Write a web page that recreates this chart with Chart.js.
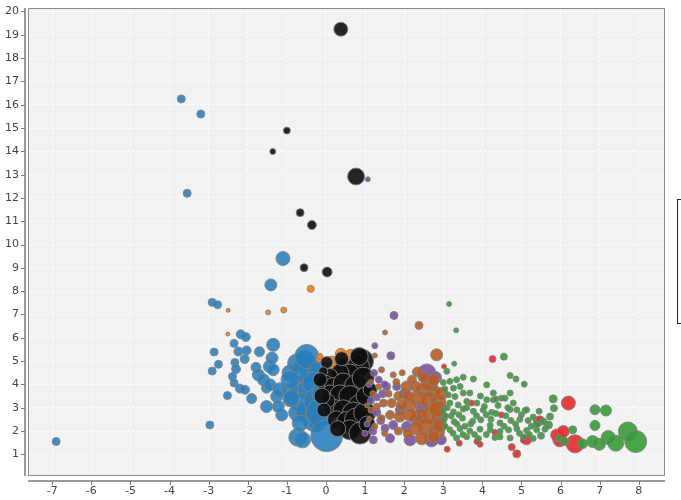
<!DOCTYPE html>
<html>
<head>
<meta charset="utf-8">
<script src="https://cdn.jsdelivr.net/npm/chart.js@4.4.0/dist/chart.umd.min.js"></script>
<style>
  html, body { margin: 0; padding: 0; background: #fff; }
  #wrap { width: 681px; height: 500px; }
</style>
</head>
<body>
<div id="wrap"><canvas id="bubbles" width="681" height="500"></canvas></div>
<script>
// tick labels
const xTickValues = [-7, -6, -5, -4, -3, -2, -1, 0, 1, 2, 3, 4, 5, 6, 7, 8];
const yTickValues = [1, 2, 3, 4, 5, 6, 7, 8, 9, 10, 11, 12, 13, 14, 15, 16, 17, 18, 19, 20];

// each point: [x, y, bubble size]
const blue = [
  [-6.9, 1.55, 4], [-3.7, 16.25, 4], [-3.2, 15.6, 4], [-3.55, 12.2, 4],
  [-1.1, 9.4, 7], [-1.41, 8.27, 6], [-2.91, 7.52, 4], [-2.77, 7.42, 4],
  [-2.18, 6.15, 4.5], [-2.05, 6.03, 4.5], [-2.35, 5.76, 4], [-1.35, 5.7, 6.5],
  [-2.86, 5.39, 4], [-2.24, 5.41, 4.5], [-2.03, 5.46, 4.5], [-2.08, 5.09, 4.5], [-1.7, 5.4, 5],
  [-2.75, 4.86, 4], [-2.91, 4.57, 4], [-2.33, 4.94, 4], [-2.3, 4.66, 4.5], [-2.39, 4.34, 4],
  [-2.35, 4.06, 4], [-2.2, 3.82, 4.5], [-2.07, 3.77, 4.5], [-2.52, 3.52, 4], [-1.9, 3.39, 5], [-2.97, 2.26, 4],
  [-1.79, 4.73, 5], [-1.73, 4.41, 6], [-1.6, 4.2, 6], [-1.45, 4.77, 6], [-1.38, 5.13, 6], [-1.35, 4.63, 6],
  [-1.52, 3.84, 5], [-1.43, 3.98, 6], [-1.52, 3.05, 6], [-1.26, 3.48, 6], [-1.13, 2.69, 6], [-1.22, 3.05, 6],
  [-0.92, 3.34, 7], [-0.75, 2.78, 8], [-0.72, 1.73, 9], [-0.6, 1.62, 8], [-0.92, 4.49, 8], [-0.75, 4.92, 9],
  [-0.54, 5.06, 9], [-0.41, 4.63, 10], [-0.66, 3.91, 10], [-0.88, 3.7, 8], [-0.41, 3.77, 12], [-0.49, 2.91, 10],
  [-0.24, 2.48, 9], [-0.66, 3.2, 10], [-0.5, 4.63, 14], [-0.49, 5.2, 12], [-0.15, 4.49, 12], [-0.32, 4.06, 11],
  [-0.92, 4.2, 9], [-1.18, 3.77, 7], [-0.88, 3.41, 8], [-0.49, 2.84, 11], [-0.28, 2.48, 12], [-0.24, 3.27, 13],
  [-0.66, 2.34, 8], [-0.15, 2.78, 14], [0.0, 3.65, 14], [0.02, 1.8, 16]
];

const orange = [
  [-0.39, 8.1, 3.5], [-1.08, 7.19, 3], [-1.48, 7.09, 2.5], [-2.5, 7.18, 2], [-2.51, 6.16, 2],
  [-0.17, 5.09, 3.5], [0.38, 5.31, 5.5], [0.63, 5.27, 5.5], [0.15, 5.0, 5], [0.9, 5.15, 5], [1.08, 4.34, 2],
  [1.17, 4.41, 2], [-0.15, 5.2, 3], [0.2, 4.7, 6], [0.55, 4.6, 7], [0.05, 4.3, 5], [0.85, 4.55, 6],
  [0.4, 3.9, 6], [0.75, 3.5, 6], [0.3, 3.0, 5]
];

const black = [
  [0.38, 19.24, 7], [-1.0, 14.89, 3.5], [-1.36, 13.99, 3], [0.77, 12.92, 8.5], [-0.66, 11.37, 4],
  [-0.36, 10.84, 4.5], [-0.56, 9.01, 4], [0.03, 8.82, 5],
  [0.02, 4.94, 6], [0.91, 5.0, 12], [0.44, 4.77, 8], [0.83, 4.77, 11], [0.61, 4.49, 9], [0.36, 4.49, 9],
  [0.1, 4.34, 8], [-0.03, 4.06, 8], [0.19, 3.91, 9], [0.44, 4.06, 10], [0.78, 3.91, 12], [0.95, 4.27, 11],
  [0.1, 3.63, 8], [0.36, 3.55, 10], [0.61, 3.48, 11], [0.87, 3.05, 12], [0.19, 2.98, 9], [0.44, 2.91, 10],
  [0.7, 2.77, 11], [0.27, 2.48, 9], [0.53, 2.41, 10], [0.78, 2.48, 12], [0.99, 2.77, 11], [0.61, 2.05, 10],
  [0.87, 1.91, 11], [-0.07, 4.56, 4.5], [0.05, 3.3, 7], [0.3, 2.1, 8], [0.4, 5.1, 7], [0.85, 5.2, 9],
  [1.0, 3.5, 9], [-0.15, 4.2, 7], [-0.1, 3.5, 8], [-0.05, 2.9, 7], [1.13, 3.77, 7], [1.05, 2.3, 8]
];

const purple = [
  [1.07, 12.8, 2.5], [1.74, 6.96, 4], [1.25, 5.66, 3], [1.66, 5.23, 4], [2.58, 4.49, 9], [1.23, 4.49, 3.5],
  [1.81, 3.91, 4], [1.55, 3.91, 4], [2.06, 2.19, 5], [1.72, 2.26, 4.5], [1.51, 2.12, 4], [1.21, 1.62, 4],
  [1.64, 1.69, 4.5], [2.15, 1.62, 6], [2.7, 1.62, 7], [2.95, 1.62, 5], [2.3, 2.5, 6], [1.3, 2.8, 4],
  [1.15, 3.3, 3.5], [1.05, 2.3, 3], [1.45, 3.6, 4], [2.8, 4.3, 6], [2.9, 2.3, 6], [2.45, 3.0, 6],
  [1.9, 2.9, 5], [1.1, 4.0, 3], [2.7, 4.0, 6], [1.35, 4.2, 3.5], [1.0, 1.9, 3], [2.0, 3.6, 5],
  [1.2, 2.0, 4], [1.4, 2.45, 4], [1.3, 3.45, 3.5], [1.5, 4.0, 3.5]
];

const brown = [
  [2.38, 6.53, 4], [1.51, 6.23, 2.5], [2.83, 5.27, 6], [1.25, 5.24, 2.5], [2.34, 4.53, 5], [1.72, 4.41, 3],
  [1.42, 4.63, 3], [2.06, 3.91, 5.5], [2.49, 3.77, 6.5], [2.74, 3.7, 7], [2.36, 3.41, 7.5], [2.62, 3.34, 8],
  [2.87, 3.2, 8], [2.15, 3.12, 6.5], [1.94, 3.12, 5.5], [1.68, 3.2, 4.5], [1.47, 3.2, 4], [1.3, 3.05, 3.5],
  [2.7, 2.69, 9], [2.4, 2.62, 8], [2.15, 2.69, 6.5], [1.89, 2.62, 5.5], [1.64, 2.69, 4.5], [1.42, 2.55, 3.5],
  [2.58, 2.19, 9], [2.32, 2.12, 6.5], [2.83, 1.98, 8], [2.45, 1.69, 6.5], [1.2, 3.6, 3], [1.35, 3.9, 3],
  [1.6, 3.6, 3.5], [1.85, 3.5, 4.5], [2.1, 3.5, 5.5], [2.9, 2.6, 8], [2.95, 3.6, 6.5], [2.6, 4.0, 6.5],
  [2.3, 3.9, 5.5], [1.8, 4.1, 3.5], [1.15, 2.9, 3], [1.25, 2.2, 3], [1.5, 1.9, 3], [1.85, 2.0, 4],
  [2.1, 1.9, 5], [2.85, 2.95, 8], [2.2, 4.2, 4.5], [1.95, 4.5, 3], [1.15, 4.1, 2.5], [1.05, 3.1, 2.5],
  [1.1, 2.5, 2.5], [2.5, 4.3, 5.5], [2.75, 4.2, 6], [2.9, 2.25, 7], [2.75, 1.75, 6]
];

const green = [
  [3.15, 7.45, 2.5], [3.33, 6.32, 2.5], [3.28, 4.89, 2.5], [4.55, 5.19, 3.5],
  [3.09, 4.56, 3], [3.34, 4.2, 3], [3.51, 4.31, 3], [3.77, 4.23, 3], [4.11, 3.98, 3], [4.71, 4.38, 3],
  [4.86, 4.23, 3], [5.07, 4.01, 3], [3.0, 4.08, 3], [3.17, 4.13, 3], [3.04, 3.8, 3], [3.26, 3.84, 3],
  [3.43, 3.91, 3], [3.13, 3.55, 3], [3.3, 3.48, 3], [3.51, 3.63, 3], [3.68, 3.63, 3], [4.28, 3.63, 3],
  [4.71, 3.63, 3], [4.28, 3.34, 3], [4.49, 3.41, 3], [4.11, 3.34, 3], [4.35, 3.37, 3], [4.58, 3.41, 3],
  [3.17, 3.2, 3], [3.38, 3.12, 3], [3.6, 3.27, 3], [3.86, 3.2, 3], [4.79, 3.2, 3], [4.88, 2.91, 3],
  [3.0, 2.9, 3], [3.26, 2.82, 3], [3.51, 2.95, 3], [3.77, 2.85, 3], [4.02, 2.9, 3], [4.24, 2.8, 3],
  [4.71, 2.92, 3], [5.09, 2.88, 3],
  [3.02, 2.5, 3], [3.28, 2.4, 3], [3.49, 2.55, 3], [3.75, 2.42, 3], [3.96, 2.48, 3], [4.22, 2.5, 3],
  [4.45, 2.35, 3], [4.73, 2.45, 3], [4.96, 2.5, 3], [5.17, 2.45, 3],
  [3.17, 2.05, 3], [3.43, 2.1, 3], [3.68, 2.0, 3], [3.94, 2.08, 3], [4.2, 2.05, 3], [4.45, 1.98, 3],
  [4.67, 2.05, 3], [4.88, 2.1, 3], [5.13, 2.02, 3], [5.39, 2.05, 3], [5.6, 2.08, 3],
  [3.34, 1.7, 3], [3.6, 1.75, 3], [3.9, 1.68, 3], [4.32, 1.72, 3], [4.71, 1.7, 3], [5.05, 1.74, 3], [5.3, 1.68, 3],
  [3.1, 3.0, 3], [3.2, 2.65, 3], [3.35, 2.3, 3], [3.05, 2.2, 3], [3.4, 2.7, 3], [3.6, 3.0, 3],
  [3.7, 2.3, 3], [3.55, 2.2, 3], [3.85, 2.65, 3], [4.1, 2.7, 3], [4.35, 2.75, 3], [4.6, 2.65, 3],
  [4.05, 3.05, 3], [4.4, 3.1, 3], [4.65, 3.0, 3], [3.95, 3.5, 3], [4.2, 2.25, 3], [4.55, 2.2, 3],
  [4.85, 2.3, 3], [5.0, 2.7, 3], [5.3, 2.6, 3], [5.45, 2.85, 3], [4.95, 1.9, 3], [5.2, 1.85, 3],
  [3.25, 1.9, 3], [3.5, 1.85, 3], [3.8, 1.85, 3], [4.1, 1.85, 3], [4.45, 1.75, 3], [3.05, 2.65, 3],
  [5.81, 3.38, 4], [5.13, 2.91, 3], [5.83, 2.98, 3.5], [5.73, 2.62, 3.5], [5.69, 2.26, 4], [5.56, 2.41, 3.5],
  [6.31, 2.05, 4], [6.88, 2.91, 5], [7.16, 2.88, 5.5], [6.88, 2.24, 5], [7.72, 1.98, 9.5], [7.92, 1.55, 11],
  [7.41, 1.48, 8], [7.22, 1.72, 7], [6.99, 1.43, 6], [6.82, 1.55, 6], [6.56, 1.45, 5], [5.4, 2.3, 3.5],
  [5.5, 1.8, 3.5], [5.25, 2.2, 3], [5.95, 1.7, 3.5], [6.1, 1.55, 4]
];

const red = [
  [6.2, 3.2, 7], [6.37, 1.45, 9], [5.98, 1.62, 7], [5.9, 1.83, 6], [6.07, 1.98, 6], [5.43, 2.41, 5],
  [5.47, 2.48, 4], [5.13, 1.62, 5], [4.88, 1.02, 4], [4.75, 1.31, 3.5], [4.49, 2.69, 3], [4.32, 1.94, 3],
  [3.94, 1.43, 3], [3.41, 1.48, 3], [3.1, 1.22, 3], [4.26, 5.09, 3.5], [3.02, 4.77, 2.5], [3.72, 3.2, 3],
  [3.86, 1.55, 3], [5.05, 1.6, 3], [2.95, 2.4, 2.5]
];

function toPoints(list) {
  return list.map(p => ({ x: p[0], y: p[1], r: p[2] }));
}

function series(label, list, fill) {
  return {
    label: label,
    data: toPoints(list),
    backgroundColor: fill,
    borderColor: 'rgba(130,130,130,0.9)',
    borderWidth: 1
  };
}

// draws the grey plot box, the detached axis lines and the clipped legend frame
const plotFrame = {
  id: 'plotFrame',
  beforeDraw(chart) {
    const a = chart.chartArea;
    const ctx = chart.ctx;
    ctx.save();
    ctx.fillStyle = '#f2f2f2';
    ctx.fillRect(a.left, a.top, a.right - a.left, a.bottom - a.top);
    ctx.restore();
  },
  afterDraw(chart) {
    const a = chart.chartArea;
    const ctx = chart.ctx;
    const xs = chart.scales.x;
    const ys = chart.scales.y;
    ctx.save();
    ctx.strokeStyle = '#8c8c8c';
    ctx.lineWidth = 1;
    ctx.strokeRect(a.left + 0.5, a.top + 0.5, a.right - a.left - 1, a.bottom - a.top - 1);

    ctx.strokeStyle = '#999';
    ctx.lineWidth = 2;
    ctx.beginPath();
    ctx.moveTo(25, a.top);
    ctx.lineTo(25, a.bottom);
    ctx.moveTo(a.left, 481);
    ctx.lineTo(a.right, 481);
    ctx.stroke();

    ctx.lineWidth = 1;
    ctx.strokeStyle = '#777';
    ctx.beginPath();
    yTickValues.forEach(v => {
      const py = Math.round(ys.getPixelForValue(v)) + 0.5;
      ctx.moveTo(21, py);
      ctx.lineTo(25, py);
    });
    xTickValues.forEach(v => {
      const px = Math.round(xs.getPixelForValue(v)) + 0.5;
      ctx.moveTo(px, 481);
      ctx.lineTo(px, 485);
    });
    ctx.stroke();

    ctx.fillStyle = '#fff';
    ctx.fillRect(677, 199, 10, 124);
    ctx.strokeStyle = '#222';
    ctx.strokeRect(677.5, 199.5, 20, 124);
    ctx.restore();
  }
};

const tickFont = { family: 'DejaVu Sans', size: 11 };

new Chart(document.getElementById('bubbles'), {
  type: 'bubble',
  data: {
    datasets: [
      series('green', green, 'rgba(55,155,55,0.9)'),
      series('brown', brown, 'rgba(182,92,38,0.9)'),
      series('purple', purple, 'rgba(120,80,165,0.9)'),
      series('black', black, 'rgba(14,14,14,0.9)'),
      series('orange', orange, 'rgba(250,130,20,0.95)'),
      series('blue', blue, 'rgba(40,126,188,0.88)'),
      series('red', red, 'rgba(232,45,48,0.92)')
    ]
  },
  options: {
    responsive: false,
    animation: false,
    events: [],
    layout: { autoPadding: false, padding: { left: 0, top: 8, right: 16, bottom: 0 } },
    plugins: {
      legend: { display: false },
      tooltip: { enabled: false }
    },
    scales: {
      x: {
        type: 'linear',
        min: -7.62,
        max: 8.67,
        afterFit: scale => {
          scale.height = 24;
          scale.paddingLeft = 0;
          scale.paddingRight = 0;
        },
        afterBuildTicks: scale => { scale.ticks = xTickValues.map(v => ({ value: v })); },
        border: { display: false, dash: [2, 2] },
        grid: { color: '#ffffff', drawTicks: false, lineWidth: 1 },
        ticks: {
          padding: 9,
          color: '#444',
          font: tickFont,
          maxRotation: 0,
          autoSkip: false,
          callback: v => String(v)
        }
      },
      y: {
        type: 'linear',
        min: 0.07,
        max: 20.15,
        afterFit: scale => {
          scale.width = 28;
          scale.paddingTop = 0;
          scale.paddingBottom = 0;
        },
        afterBuildTicks: scale => { scale.ticks = yTickValues.map(v => ({ value: v })); },
        border: { display: false, dash: [2, 2] },
        grid: { color: '#ffffff', drawTicks: false, lineWidth: 1 },
        ticks: {
          padding: 9,
          color: '#444',
          font: tickFont,
          autoSkip: false,
          callback: v => String(v)
        }
      }
    }
  },
  plugins: [plotFrame]
});
</script>
</body>
</html>
